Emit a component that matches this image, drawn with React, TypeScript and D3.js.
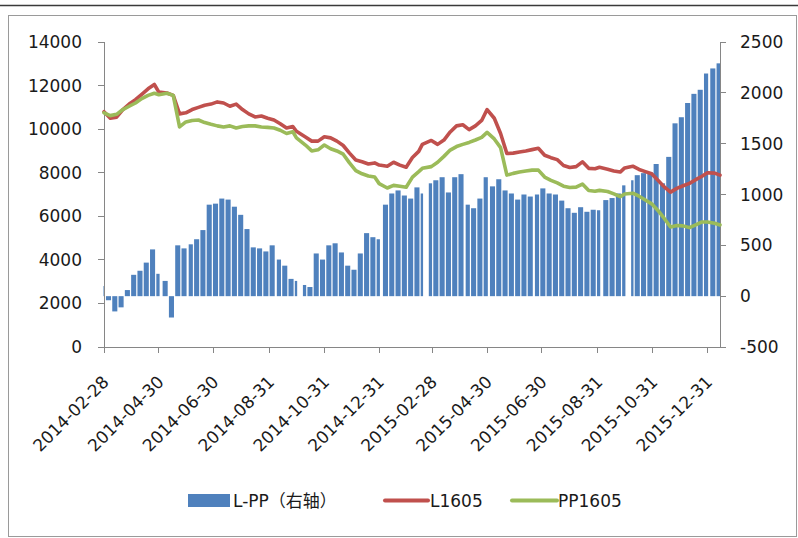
import React from "react";
import * as d3 from "d3";

// Weekly series, one value per trading week (week ending Friday), from 2014-02-28 to 2016-01-14
const startDate = "2014-02-28";
const endDate = "2016-01-14";

// L-PP spread (right axis)
const spreadLPP: number[] = [
  100, -40, -150, -110, 60, 210, 250, 330, 460, 220,
  150, -210, 500, 470, 510, 560, 650, 900, 910, 960,
  950, 880, 800, 660, 480, 470, 440, 500, 360, 300,
  170, 150, 110, 90, 420, 360, 500, 520, 430, 300,
  260, 420, 620, 580, 560, 900, 1010, 1040, 990, 960,
  1070, 1010, 1110, 1140, 1170, 1020, 1170, 1200, 900, 865,
  960, 1170, 1080, 1150, 1040, 1010, 950, 1000, 980, 1000,
  1060, 1010, 1000, 940, 865, 820, 875, 830, 850, 845,
  945, 965, 1010, 1090, 1140, 1190, 1210, 1220, 1300, 1110,
  1370, 1700, 1760, 1900, 1990, 2030, 2190, 2240, 2290,
];

// L1605 settlement (left axis)
const l1605: number[] = [
  10800, 10500, 10550, 10900, 11150, 11350, 11600, 11850, 12050, 11700,
  11660, 11550, 10700, 10750, 10900, 11000, 11100, 11150, 11250, 11200,
  11050, 11150, 10900, 10700, 10560, 10600, 10500, 10420, 10250, 10050,
  10120, 9900, 9640, 9450, 9450, 9650, 9600, 9450, 9250, 8900,
  8580, 8500, 8400, 8450, 8350, 8300, 8480, 8350, 8250, 8700,
  8980, 9300, 9480, 9300, 9500, 9870, 10150, 10200, 9980, 10150,
  10400, 10900, 10500, 9800, 8880, 8900, 8950, 9000, 9060, 9120,
  8800, 8690, 8600, 8330, 8240, 8280, 8500, 8200, 8180, 8250,
  8160, 8080, 8030, 8220, 8300, 8150, 8050, 7950, 7650, 7350,
  7110, 7280, 7400, 7510, 7680, 7840, 8000, 7980, 7890,
];

// PP1605 settlement (left axis)
const pp1605: number[] = [
  10750, 10620, 10680, 10900, 11050, 11200, 11400, 11550, 11650, 11580,
  11650, 11550, 10100, 10330, 10400, 10420, 10300, 10220, 10150, 10100,
  10150, 10050, 10120, 10150, 10150, 10100, 10080, 10050, 9950, 9800,
  9880, 9600, 9270, 9000, 9050, 9270, 9100, 9000, 8850, 8450,
  8100, 7950, 7850, 7800, 7500, 7300, 7420, 7380, 7330, 7800,
  8050, 8200, 8280, 8480, 8750, 9040, 9200, 9300, 9390, 9500,
  9620, 9850, 9550, 9150, 7890, 7970, 8030, 8080, 8120, 8120,
  7800, 7650, 7530, 7380, 7320, 7340, 7480, 7180, 7150, 7190,
  7140, 7030, 6900, 7020, 7060, 6920, 6750, 6570, 6270, 5900,
  5510, 5580, 5560, 5480, 5610, 5740, 5740, 5680, 5600,
];

// Exchange holidays (no trading)
const holidays: string[] = [
  "2014-05-01", "2014-05-02", "2014-06-02", "2014-09-08",
  "2014-10-01", "2014-10-02", "2014-10-03", "2014-10-06", "2014-10-07",
  "2015-01-01", "2015-01-02", "2015-02-18", "2015-02-19", "2015-02-20",
  "2015-02-23", "2015-02-24", "2015-04-06", "2015-05-01", "2015-06-22",
  "2015-09-03", "2015-09-04", "2015-10-01", "2015-10-02", "2015-10-05",
  "2015-10-06", "2015-10-07", "2016-01-01",
];

const xTickLabels: string[] = [
  "2014-02-28", "2014-04-30", "2014-06-30", "2014-08-31", "2014-10-31", "2014-12-31",
  "2015-02-28", "2015-04-30", "2015-06-30", "2015-08-31", "2015-10-31", "2015-12-31",
];
const leftTicks: number[] = [0, 2000, 4000, 6000, 8000, 10000, 12000, 14000];
const rightTicks: number[] = [-500, 0, 500, 1000, 1500, 2000, 2500];

const legendItems = ["L-PP（右轴）", "L1605", "PP1605"];

const BLUE = "#4F81BD";
const RED = "#C0504D";
const GREEN = "#9BBB59";
const AXIS = "#868686";
const FONT = "'DejaVu Sans', 'Noto Sans CJK SC', sans-serif";

const parse = d3.utcParse("%Y-%m-%d");
const fmt = d3.utcFormat("%Y-%m-%d");

export default function App() {
  const W = 798;
  const H = 538;
  const start = parse(startDate)!;
  const end = parse(endDate)!;
  const holidaySet = new Set(holidays);

  const x = d3.scaleUtc().domain([start, end]).range([104, 720]);
  const yL = d3.scaleLinear().domain([0, 14000]).range([347, 42]);
  const yR = d3.scaleLinear().domain([-500, 2500]).range([347, 42]);

  // trading days of each week, grouped into consecutive runs
  const weeks = spreadLPP.map((v, w) => {
    const fri = d3.utcDay.offset(start, 7 * w);
    const days: Date[] = [];
    for (let k = 4; k >= 0; k--) {
      const d = d3.utcDay.offset(fri, -k);
      if (d < start || d > end) continue;
      if (holidaySet.has(fmt(d))) continue;
      days.push(d);
    }
    const runs: Date[][] = [];
    days.forEach((d) => {
      const last = runs.length ? runs[runs.length - 1] : null;
      if (last && d3.utcDay.count(last[last.length - 1], d) === 1) last.push(d);
      else runs.push([d]);
    });
    return { w, v, days, runs };
  });

  // each run of trading days is widened by most of a day on both sides,
  // leaving a thin white gap over weekends and holidays
  const pad = 0.82 * 24 * 3600 * 1000;
  const bars: { x0: number; x1: number; v: number; key: string }[] = [];
  weeks.forEach((wk) => {
    wk.runs.forEach((run, i) => {
      const a = run[0];
      const b = run[run.length - 1];
      bars.push({
        x0: Math.max(x(new Date(+a - pad)), 103.5),
        x1: Math.min(x(new Date(+b + pad)), 720),
        v: wk.v,
        key: `${wk.w}-${i}`,
      });
    });
  });

  const pointDates = weeks.map((wk) => wk.days[wk.days.length - 1]);
  const line = d3
    .line<number>()
    .x((_, i) => x(pointDates[i]))
    .y((v) => yL(v))
    .curve(d3.curveLinear);

  return (
    <svg
      width={W}
      height={H}
      style={{ position: "fixed", left: 0, top: 0, background: "#fff" }}
      fontFamily={FONT}
    >
      <rect x={0} y={0} width={W} height={H} fill="#fff" />
      <line x1={0} x2={W} y1={5.5} y2={5.5} stroke="#3a3a3a" strokeWidth={1.6} />
      <rect x={8.5} y={15.5} width={788} height={521} fill="none" stroke="#9a9a9a" strokeWidth={1} />

      {/* spread bars */}
      <g fill={BLUE}>
        {bars.map((b) => (
          <rect
            key={b.key}
            x={b.x0}
            width={Math.max(b.x1 - b.x0, 0.5)}
            y={yR(Math.max(b.v, 0))}
            height={Math.abs(yR(b.v) - yR(0))}
          />
        ))}
      </g>

      {/* axes */}
      <g stroke={AXIS} strokeWidth={1} fill="none" shapeRendering="crispEdges">
        <line x1={104} x2={104} y1={42} y2={347} />
        <line x1={720} x2={720} y1={42} y2={347} />
        <line x1={104} x2={720} y1={347} y2={347} />
        {leftTicks.map((t) => (
          <line key={`lt${t}`} x1={98} x2={104} y1={yL(t)} y2={yL(t)} />
        ))}
        {rightTicks.map((t) => (
          <line key={`rt${t}`} x1={720} x2={726} y1={yR(t)} y2={yR(t)} />
        ))}
        {xTickLabels.map((t) => (
          <line key={`xt${t}`} x1={x(parse(t)!)} x2={x(parse(t)!)} y1={347} y2={353} />
        ))}
      </g>

      {/* price lines */}
      <path d={line(l1605) || ""} fill="none" stroke={RED} strokeWidth={3.6} strokeLinejoin="round" strokeLinecap="round" />
      <path d={line(pp1605) || ""} fill="none" stroke={GREEN} strokeWidth={3.6} strokeLinejoin="round" strokeLinecap="round" />

      {/* tick labels */}
      <g fontSize={17} fill="#1a1a1a">
        {leftTicks.map((t) => (
          <text key={`ll${t}`} x={82} y={yL(t)} textAnchor="end" dominantBaseline="central">
            {t}
          </text>
        ))}
        {rightTicks.map((t) => (
          <text key={`rl${t}`} x={740} y={yR(t)} textAnchor="start" dominantBaseline="central">
            {t}
          </text>
        ))}
        {xTickLabels.map((t) => (
          <text
            key={`xl${t}`}
            textAnchor="end"
            transform={`translate(${x(parse(t)!) + 6},383) rotate(-45)`}
          >
            {t}
          </text>
        ))}
      </g>

      {/* legend */}
      <g fontSize={17} fill="#1a1a1a">
        <rect x={188} y={494} width={42} height={13} fill={BLUE} />
        <text x={233} y={500.5} dominantBaseline="central">{legendItems[0]}</text>
        <line x1={385} x2={428} y1={500.5} y2={500.5} stroke={RED} strokeWidth={4} strokeLinecap="round" />
        <text x={430} y={500.5} dominantBaseline="central">{legendItems[1]}</text>
        <line x1={512} x2={557} y1={500.5} y2={500.5} stroke={GREEN} strokeWidth={4} strokeLinecap="round" />
        <text x={558} y={500.5} dominantBaseline="central">{legendItems[2]}</text>
      </g>
    </svg>
  );
}
